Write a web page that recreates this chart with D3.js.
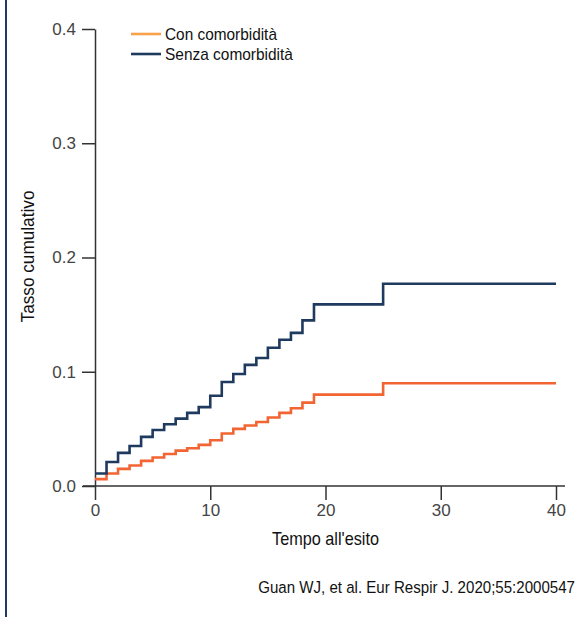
<!DOCTYPE html>
<html>
<head>
<meta charset="utf-8">
<script src="https://cdn.jsdelivr.net/npm/d3@7"></script>
<style>
  body { margin: 0; background: #fff; }
  svg { display: block; }
</style>
</head>
<body>
<div id="chart"></div>
<script>
// time points (days) where the curves step
const days = [0, 1, 2, 3, 4, 5, 6, 7, 8, 9, 10, 11, 12, 13, 14, 15, 16, 17, 18, 19, 25, 40];
const conComorbidita = [0.006, 0.011, 0.015, 0.018, 0.022, 0.025, 0.028, 0.031, 0.033, 0.036, 0.040, 0.046, 0.050, 0.053, 0.056, 0.060, 0.064, 0.068, 0.073, 0.080, 0.090, 0.090];
const senzaComorbidita = [0.011, 0.021, 0.029, 0.035, 0.043, 0.049, 0.054, 0.059, 0.064, 0.069, 0.079, 0.091, 0.098, 0.106, 0.112, 0.121, 0.128, 0.134, 0.145, 0.159, 0.177, 0.177];
const seriesNames = ['Con comorbidità', 'Senza comorbidità'];
const xTicks = [0, 10, 20, 30, 40];
const yTicks = [0, 0.1, 0.2, 0.3, 0.4];

const width = 584, height = 617;
const sans = "'Liberation Sans', Arial, sans-serif";

const svg = d3.select('#chart')
  .append('svg')
  .attr('width', width)
  .attr('height', height);

// condensed-looking text: squeeze regular sans horizontally to the measured width
function squeeze(sel, size, len) {
  sel.style('font-family', sans)
    .style('font-size', size + 'px')
    .attr('fill', '#111');
  const natural = sel.node().getComputedTextLength();
  const k = len / natural;
  const base = sel.attr('transform') || '';
  const x0 = +sel.attr('x') || 0, y0 = +sel.attr('y') || 0;
  sel.attr('x', null).attr('y', null)
    .attr('transform', `${base} translate(${x0},${y0}) scale(${k},1)`);
}

// left border rule
svg.append('line')
  .attr('x1', 6).attr('x2', 6)
  .attr('y1', 0).attr('y2', height)
  .attr('stroke', '#1f3a60')
  .attr('stroke-width', 2);

const x = d3.scaleLinear().domain([0, 40]).range([95, 556]);
const y = d3.scaleLinear().domain([0, 0.4]).range([486, 29]);

// x axis
const gx = svg.append('g')
  .attr('transform', `translate(0,${y(0)})`)
  .call(d3.axisBottom(x).tickValues(xTicks).tickSize(14).tickSizeOuter(0).tickPadding(4)
    .tickFormat(d3.format('d')));
gx.select('.domain').remove();
gx.append('line')
  .attr('x1', x(0) - 12).attr('x2', x(40) + 9)
  .attr('stroke', '#333').attr('stroke-width', 1.5);

// y axis
const gy = svg.append('g')
  .attr('transform', `translate(${x(0)},0)`)
  .call(d3.axisLeft(y).tickValues(yTicks).tickSize(13).tickSizeOuter(0).tickPadding(6)
    .tickFormat(d3.format('.1f')));

svg.selectAll('.tick line, .domain')
  .attr('stroke', '#333')
  .attr('stroke-width', 1.5);
svg.selectAll('.tick text')
  .attr('fill', '#444')
  .style('font-family', sans)
  .style('font-size', '17px');

// axis titles
svg.append('text')
  .attr('x', x(20))
  .attr('y', 545)
  .attr('text-anchor', 'middle')
  .text("Tempo all'esito")
  .call(squeeze, 18, 107);

svg.append('text')
  .attr('transform', `translate(34,${y(0.2) - 1}) rotate(-90)`)
  .attr('text-anchor', 'middle')
  .text('Tasso cumulativo')
  .call(squeeze, 18, 132);

// step curves
const line = d3.line()
  .x(d => x(d[0]))
  .y(d => y(d[1]))
  .curve(d3.curveStepAfter);

const curves = [
  { name: seriesNames[0], values: conComorbidita, color: '#f26532' },
  { name: seriesNames[1], values: senzaComorbidita, color: '#1f3a5f' }
];

svg.selectAll('path.curve')
  .data(curves)
  .enter()
  .append('path')
  .attr('class', 'curve')
  .attr('fill', 'none')
  .attr('stroke', d => d.color)
  .attr('stroke-width', 2.6)
  .attr('d', d => line(days.map((t, i) => [t, d.values[i]])));

// legend
const legendColors = ['#f7a24b', '#1f3a5f'];
const legendWidths = [112, 128];
const legend = svg.selectAll('g.legend')
  .data(seriesNames)
  .enter()
  .append('g')
  .attr('class', 'legend')
  .attr('transform', (d, i) => `translate(131,${34 + i * 20})`);

legend.append('line')
  .attr('x1', 0).attr('x2', 30)
  .attr('stroke', (d, i) => legendColors[i])
  .attr('stroke-width', 2.6);

legend.append('text')
  .attr('x', 34)
  .attr('dy', '0.36em')
  .text(d => d)
  .each(function (d, i) { d3.select(this).call(squeeze, 17, legendWidths[i]); });

// source note
svg.append('text')
  .attr('x', 575)
  .attr('y', 593)
  .attr('text-anchor', 'end')
  .text('Guan WJ, et al. Eur Respir J. 2020;55:2000547')
  .call(squeeze, 17, 317);
</script>
</body>
</html>
